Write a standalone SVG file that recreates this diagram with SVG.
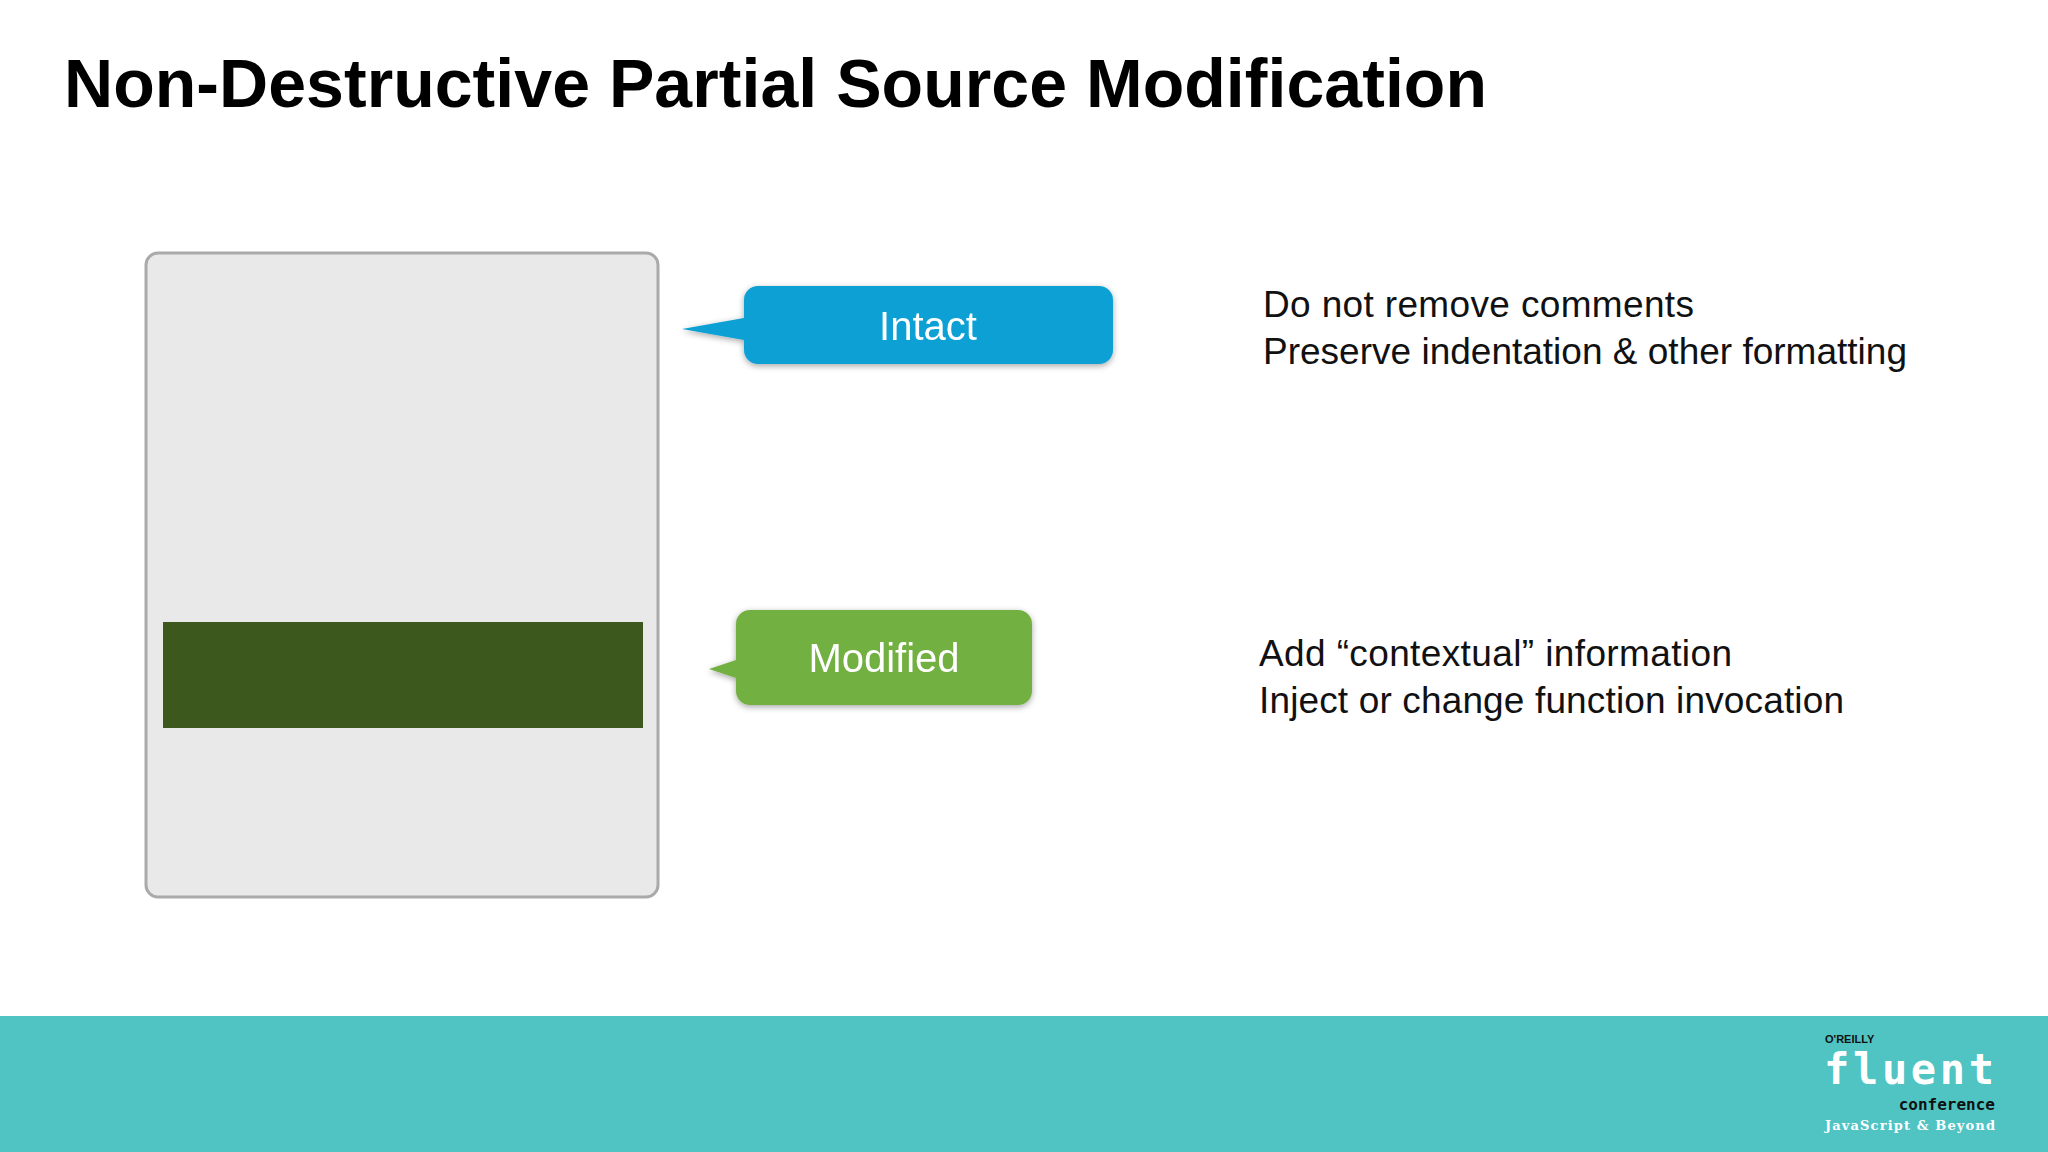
<svg xmlns="http://www.w3.org/2000/svg" width="2048" height="1152" viewBox="0 0 2048 1152">
<style>
.t{font-family:"Liberation Sans",Arial,sans-serif;}
.body{font-family:"Liberation Sans",Arial,sans-serif;font-size:37px;fill:#111;}
.lbl{font-family:"Liberation Sans",Arial,sans-serif;font-size:40px;fill:#fff;text-anchor:middle;}
</style>
<defs>
<filter id="sh" x="-10%" y="-20%" width="120%" height="140%"><feDropShadow dx="0" dy="2" stdDeviation="3" flood-opacity="0.35"/></filter>
</defs>
<rect width="2048" height="1152" fill="#fff"/>
<text class="t" x="64" y="107" font-size="68" font-weight="bold" fill="#000" textLength="1423">Non-Destructive Partial Source Modification</text>
<g id="source">
<rect x="146" y="253" width="512" height="644" rx="12" fill="#e9e9e9" stroke="#aaa" stroke-width="3"/>
<rect x="163" y="622" width="480" height="106" fill="#3c581c"/>
</g>
<g id="intact" filter="url(#sh)">
<path d="M758,286 H1099 a14,14 0 0 1 14,14 V350 a14,14 0 0 1 -14,14 H758 a14,14 0 0 1 -14,-14 V340 L682,329 L744,318 V300 a14,14 0 0 1 14,-14 Z" fill="#0aa0d5"/>
<text class="lbl" x="928" y="340">Intact</text>
</g>
<g id="modified" filter="url(#sh)">
<path d="M750,610 H1018 a14,14 0 0 1 14,14 V691 a14,14 0 0 1 -14,14 H750 a14,14 0 0 1 -14,-14 V678 L709,669 L736,660 V624 a14,14 0 0 1 14,-14 Z" fill="#73b043"/>
<text class="lbl" x="884" y="672">Modified</text>
</g>
<g id="notes">
<text class="body" x="1263" y="317" textLength="431">Do not remove comments</text>
<text class="body" x="1263" y="364" textLength="644">Preserve indentation &amp; other formatting</text>
<text class="body" x="1259" y="666" textLength="473">Add “contextual” information</text>
<text class="body" x="1259" y="713" textLength="585">Inject or change function invocation</text>
</g>
<rect x="0" y="1016" width="2048" height="136" fill="#50c3c3"/>
<g id="logo" fill="#fff">
<text class="t" x="1825" y="1043" font-size="11" font-weight="bold" fill="#111">O'REILLY</text>
<text x="1824" y="1084" font-family="'DejaVu Sans Mono',monospace" font-size="42" font-weight="bold" textLength="170">fluent</text>
<text x="1995" y="1110" font-family="'DejaVu Sans Mono',monospace" font-size="16" font-weight="bold" fill="#111" text-anchor="end">conference</text>
<text x="1995" y="1130" font-family="'DejaVu Serif',serif" font-size="13" font-weight="bold" text-anchor="end" textLength="170">JavaScript &amp; Beyond</text>
</g>
</svg>
